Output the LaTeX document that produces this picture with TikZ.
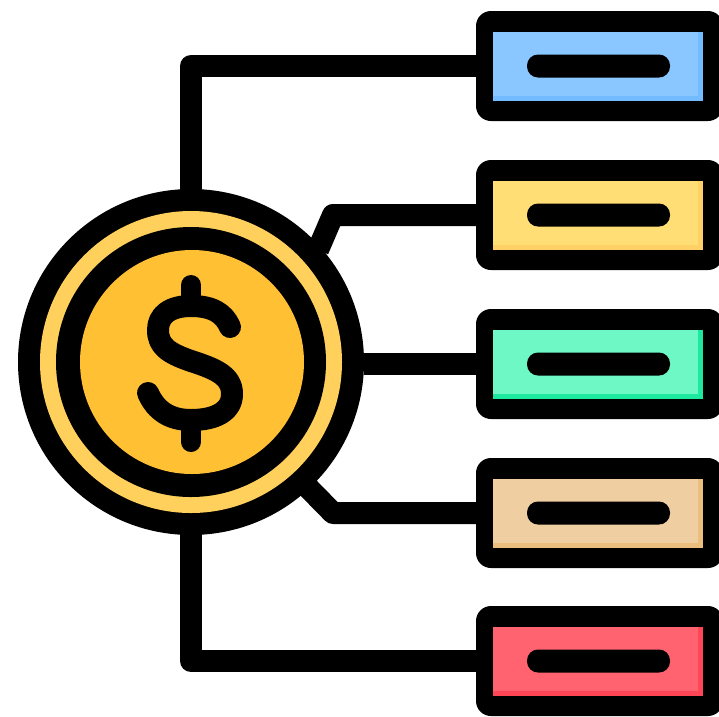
\documentclass[tikz,border=0pt]{standalone}
\definecolor{ringyellow}{HTML}{FFD15C}
\definecolor{faceyellow}{HTML}{FFC033}
\definecolor{cardblue}{HTML}{8AC6FF}
\definecolor{edgeblue}{HTML}{72BBFF}
\definecolor{cardyellow}{HTML}{FFDE75}
\definecolor{edgeyellow}{HTML}{FFD066}
\definecolor{cardgreen}{HTML}{6DF8C6}
\definecolor{edgegreen}{HTML}{1CE8A0}
\definecolor{cardtan}{HTML}{EFCFA2}
\definecolor{edgetan}{HTML}{EBBE7E}
\definecolor{cardred}{HTML}{FF6370}
\definecolor{edgered}{HTML}{FF4657}
\begin{document}
\begin{tikzpicture}[x=1pt,y=-1pt,
  card/.style={fill=black,rounded corners=15pt,minimum width=247pt,minimum height=110pt,inner sep=0pt,outer sep=0pt},
  pane/.style={minimum width=210pt,minimum height=69pt,inner sep=0pt,outer sep=0pt},
  slit/.style={fill=black,rounded corners=11pt,minimum width=143pt,minimum height=23pt,inner sep=0pt},
  disc/.style={circle,inner sep=0pt,outer sep=0pt},
  wire/.style={draw=black,line width=22pt,line join=round}]
\useasboundingbox (0,0) rectangle (719,716);
\fill[white] (0,0) rectangle (719,716);
% coin
\node[disc,fill=black,minimum size=346pt] (coin) at (191,362) {};
\node[disc,fill=ringyellow,minimum size=302pt] (ring) at (191,362) {};
\node[disc,fill=black,minimum size=270pt] (rim) at (191,362) {};
\node[disc,fill=faceyellow,minimum size=224pt] (face) at (192,362) {};
% dollar sign
\draw[line width=22pt,line cap=round,line join=round]
  (230,327) .. controls (224,313) and (212,306) .. (191,306)
  .. controls (170,306) and (158,315) .. (158,330)
  .. controls (158,346) and (168,353) .. (191,361)
  .. controls (216,369) and (232,376) .. (232,394)
  .. controls (232,411) and (216,420) .. (191,420)
  .. controls (170,420) and (156,411) .. (148,393);
\draw[line width=20pt,line cap=round] (191,285) -- (191,306);
\draw[line width=20pt,line cap=round] (191,420) -- (191,442);
% cards
\foreach \i/\cy/\base/\edge in {1/66/cardblue/edgeblue,2/215/cardyellow/edgeyellow,3/364/cardgreen/edgegreen,4/513/cardtan/edgetan,5/661/cardred/edgered}{
  \node[card] (box\i) at (599.5,\cy) {};
  \node[pane,fill=\base] (pane\i) at (598,\cy) {};
  \fill[\edge] (493,\cy+30) rectangle (703,\cy+34.5);
  \fill[\edge] (698,\cy-34.5) rectangle (703,\cy+34.5);
  \node[slit] (slit\i) at (598.5,\cy) {};
}
% connectors
\coordinate (bendA) at (191,66);
\coordinate (bendB) at (333,215);
\coordinate (bendD) at (333,513);
\coordinate (bendE) at (191,661);
\draw[wire,shorten <=-4pt,shorten >=-4pt] (coin.north) -- (bendA) -- (box1.west);
\draw[wire,shorten <=-4pt,shorten >=-4pt] (coin.42) -- (bendB) -- (box2.west);
\draw[wire,shorten >=-4pt] (coin.east |- box3.west) -- (box3.west);
\draw[wire,shorten <=-4pt,shorten >=-4pt] (coin.-47) -- (bendD) -- (box4.west);
\draw[wire,shorten <=-4pt,shorten >=-4pt] (coin.south) -- (bendE) -- (box5.west);
\end{tikzpicture}
\end{document}
